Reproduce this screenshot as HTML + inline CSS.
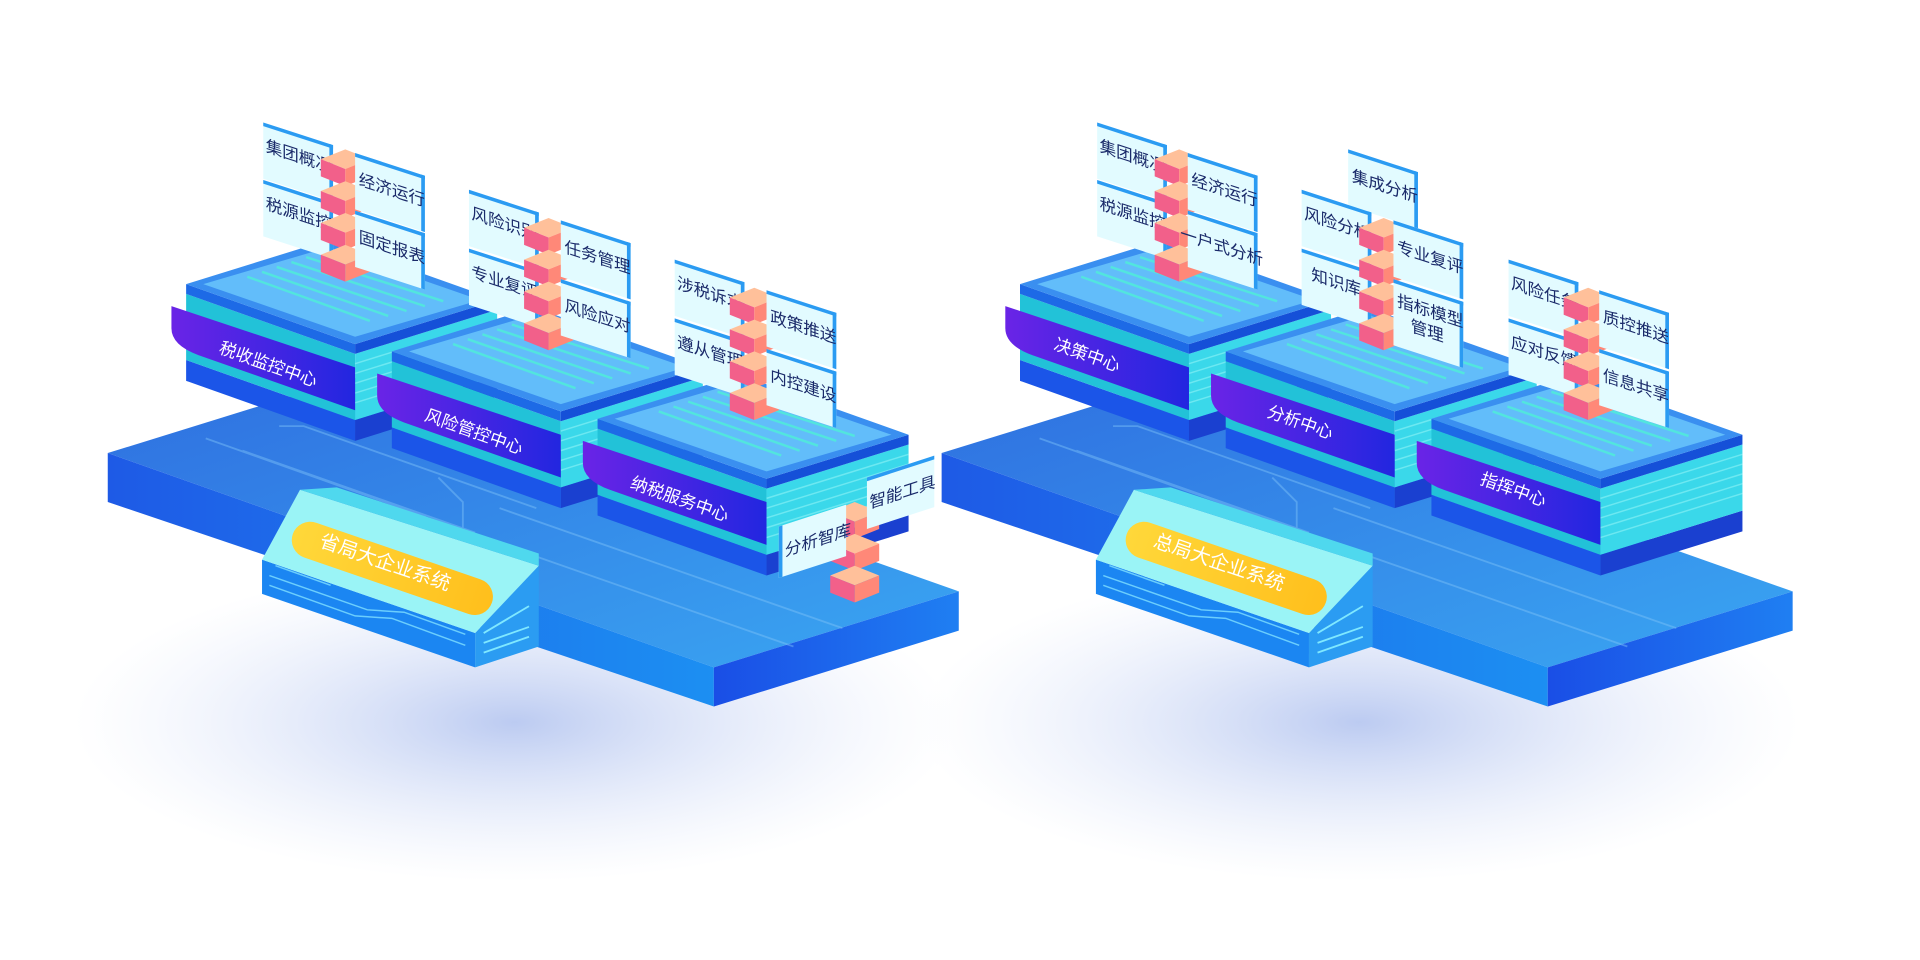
<!DOCTYPE html>
<html><head><meta charset="utf-8"><style>
html,body{margin:0;padding:0;background:#fff;}
svg{display:block;}
text{font-family:"Liberation Sans","Noto Sans CJK SC",sans-serif;}
</style></head><body>
<svg width="1920" height="960" viewBox="0 0 1568 784" xmlns="http://www.w3.org/2000/svg">
<defs>
<radialGradient id="sh" cx="50%" cy="50%" r="50%"><stop offset="0" stop-color="#8fa8e8" stop-opacity=".6"/><stop offset="1" stop-color="#c8d6f6" stop-opacity="0"/></radialGradient>
<linearGradient id="btop" x1="0" y1="0" x2="1" y2="1"><stop offset="0" stop-color="#2f6fe0"/><stop offset="1" stop-color="#3aa6f2"/></linearGradient>
<linearGradient id="bleft" x1="0" y1="0" x2="1" y2="0"><stop offset="0" stop-color="#1e5ae6"/><stop offset="1" stop-color="#1c8ff2"/></linearGradient>
<linearGradient id="bright" x1="0" y1="0" x2="1" y2="0"><stop offset="0" stop-color="#1a4ee6"/><stop offset="1" stop-color="#1f7ff2"/></linearGradient>
<linearGradient id="panel" x1="0" y1="0" x2="1" y2="0"><stop offset="0" stop-color="#6a24e6"/><stop offset="1" stop-color="#2226e0"/></linearGradient>
<linearGradient id="pill" x1="0" y1="0" x2="1" y2="0"><stop offset="0" stop-color="#ffd83a"/><stop offset="1" stop-color="#ffbf1c"/></linearGradient>
<g id="base">
 <polygon points="0,0 200,-62 695,113 495,175" fill="url(#btop)"/>
 <polygon points="0,0 495,175 495,207 0,40" fill="url(#bleft)"/>
 <polygon points="495,175 695,113 695,145 495,207" fill="url(#bright)"/>
 <g stroke="#7fc4f8" stroke-width="1.5" opacity=".45" fill="none">
  <path d="M80,-12 L260,52 M110,-2 L300,65 M140,-22 L160,-22 L350,45 M280,60 L560,158 M320,45 L600,143 M270,20 L290,40 L290,70"/>
 </g>
</g>
<g id="tower">
 <polygon points="0,62 138,111 138,128 0,79" fill="#1b55e8"/>
 <polygon points="138,111 254,75 254,92 138,128" fill="#1a40d0"/>
 <polygon points="0,8 138,57 138,111 0,62" fill="#22c2d8"/>
 <polygon points="138,57 254,21 254,75 138,111" fill="#3ad8ea"/>
 <g stroke="#8ff3f6" stroke-width="1.2" opacity=".6">
  <line x1="138" y1="65" x2="254" y2="29"/><line x1="138" y1="73" x2="254" y2="37"/><line x1="138" y1="81" x2="254" y2="45"/><line x1="138" y1="89" x2="254" y2="53"/><line x1="138" y1="97" x2="254" y2="61"/>
 </g>
 <polygon points="0,0 138,49 138,57 0,8" fill="#1d6ae6"/>
 <polygon points="138,49 254,13 254,21 138,57" fill="#1550d8"/>
 <polygon points="0,0 116,-36 254,13 138,49" fill="#3a8ff0"/>
 <polygon points="14,0 116,-30 240,13 138,43" fill="#62bdfa"/>
 <g stroke="#4ff0d8" stroke-width="2" opacity=".8">
  <line x1="50" y1="-6" x2="150" y2="30"/><line x1="62" y1="-10" x2="165" y2="26"/><line x1="74" y1="-14" x2="180" y2="22"/><line x1="86" y1="-18" x2="195" y2="18"/><line x1="98" y1="-22" x2="210" y2="14"/>
 </g>
 <path d="M-12,18 L138,68 L138,103 L10,58 Q-12,50 -12,36 Z" fill="url(#panel)"/>
</g>
<g id="cube">
 <polygon points="0,8 20,0 40,8 20,16" fill="#ffc09a"/>
 <polygon points="0,8 20,16 20,30 0,22" fill="#f2608a"/>
 <polygon points="20,16 40,8 40,22 20,30" fill="#ff8878"/>
</g>
<g id="stack4"><use href="#cube" y="0"/><use href="#cube" y="26"/><use href="#cube" y="52"/><use href="#cube" y="78"/></g>
<g id="card">
 <rect x="0" y="0" width="57" height="46" fill="#e2fbff"/>
 <rect x="0" y="0" width="57" height="3" fill="#2b9bf2"/>
 <rect x="54" y="0" width="3" height="46" fill="#2b9bf2"/>
</g>
<g id="gate">
 <polygon points="214,457 388,517 388,545 214,485" fill="#1b86f2"/>
 <g stroke="#7fe0ff" stroke-width="1.2" fill="none" opacity=".8"><path d="M220,470 L300,498 L330,500 L380,518 M220,478 L290,503 L320,505 L380,527 M225,462 L270,478"/></g>
 <polygon points="388,517 440,462 440,528 388,545" fill="#2b9cf2"/>
 <g stroke="#7fe8ff" stroke-width="1.5"><line x1="395" y1="525" x2="432" y2="512"/><line x1="395" y1="533" x2="432" y2="520"/><line x1="395" y1="517" x2="432" y2="495"/></g>
 <polygon points="214,457 245,400 440,462 388,517" fill="#9af4f6"/>
 <polygon points="245,400 275,398 440,452 440,462" fill="#4fd8ee"/>
</g>
</defs>

<ellipse cx="420" cy="590" rx="360" ry="130" fill="url(#sh)"/>
<ellipse cx="1110" cy="590" rx="360" ry="130" fill="url(#sh)"/>

<!-- LEFT GROUP -->
<use href="#base" x="88" y="370"/>
<use href="#tower" x="152" y="232"/>
<use href="#tower" x="320" y="287"/>
<use href="#tower" x="488" y="342"/>
<g fill="#fff" font-size="14">
<text transform="translate(178,288) rotate(19.5)">税收监控中心</text>
<text transform="translate(346,343) rotate(19.5)">风险管控中心</text>
<text transform="translate(514,398) rotate(19.5)">纳税服务中心</text>
</g>
<use href="#gate"/>
<rect x="0" y="0" width="172" height="30" rx="15" fill="url(#pill)" transform="translate(244,422) rotate(19)"/>
<text transform="translate(260,446) rotate(19)" font-size="16" fill="#fff">省局大企业系统</text>

<g font-size="13.5" fill="#1a2a6a">
<g transform="translate(215,100) skewY(18)"><use href="#card"/><text x="2" y="23">集团概况</text></g>
<g transform="translate(215,147) skewY(18)"><use href="#card"/><text x="2" y="23">税源监控</text></g>
<use href="#stack4" x="262" y="122"/>
<g transform="translate(290,125) skewY(18)"><use href="#card"/><text x="3" y="25">经济运行</text></g>
<g transform="translate(290,172) skewY(18)"><use href="#card"/><text x="3" y="25">固定报表</text></g>

<g transform="translate(383,155) skewY(18)"><use href="#card"/><text x="2" y="23">风险识别</text></g>
<g transform="translate(383,203) skewY(18)"><use href="#card"/><text x="2" y="23">专业复评</text></g>
<use href="#stack4" x="428" y="178"/>
<g transform="translate(458,180) skewY(18)"><use href="#card"/><text x="3" y="25">任务管理</text></g>
<g transform="translate(458,228) skewY(18)"><use href="#card"/><text x="3" y="25">风险应对</text></g>

<g transform="translate(551,212) skewY(18)"><use href="#card"/><text x="2" y="23">涉税诉求</text></g>
<g transform="translate(551,260) skewY(18)"><use href="#card"/><text x="2" y="23">遵从管理</text></g>
<use href="#stack4" x="596" y="235"/>
<g transform="translate(626,237) skewY(18)"><use href="#card"/><text x="3" y="25">政策推送</text></g>
<g transform="translate(626,285) skewY(18)"><use href="#card"/><text x="3" y="25">内控建设</text></g>

<use href="#cube" x="678" y="410"/><use href="#cube" x="678" y="436"/><use href="#cube" x="678" y="462"/>
<g transform="translate(636,430) skewY(-18)"><rect width="55" height="42" fill="#e2fbff"/><rect width="3" height="42" fill="#2b9bf2"/><text x="5" y="26">分析智库</text></g>
<g transform="translate(708,390) skewY(-18)"><rect width="55" height="42" fill="#e2fbff"/><rect width="55" height="3" fill="#2b9bf2"/><text x="2" y="26">智能工具</text></g>
</g>

<!-- RIGHT GROUP -->
<use href="#base" x="769" y="370"/>
<use href="#tower" x="833" y="232"/>
<use href="#tower" x="1001" y="287"/>
<use href="#tower" x="1169" y="342"/>
<g fill="#fff" font-size="14">
<text transform="translate(860,285) rotate(19.5)">决策中心</text>
<text transform="translate(1034,340) rotate(19.5)">分析中心</text>
<text transform="translate(1208,395) rotate(19.5)">指挥中心</text>
</g>
<use href="#gate" x="681"/>
<rect x="0" y="0" width="172" height="30" rx="15" fill="url(#pill)" transform="translate(925,422) rotate(19)"/>
<text transform="translate(941,446) rotate(19)" font-size="16" fill="#fff">总局大企业系统</text>

<g font-size="13.5" fill="#1a2a6a">
<g transform="translate(896,100) skewY(18)"><use href="#card"/><text x="2" y="23">集团概况</text></g>
<g transform="translate(896,147) skewY(18)"><use href="#card"/><text x="2" y="23">税源监控</text></g>
<use href="#stack4" x="943" y="122"/>
<g transform="translate(970,125) skewY(18)"><use href="#card"/><text x="3" y="25">经济运行</text></g>
<g transform="translate(970,172) skewY(18)"><use href="#card"/><text x="-6" y="25">一户式分析</text></g>

<g transform="translate(1101,122) skewY(18)"><use href="#card"/><text x="3" y="25">集成分析</text></g>
<g transform="translate(1063,155) skewY(18)"><use href="#card"/><text x="2" y="23">风险分析</text></g>
<g transform="translate(1063,203) skewY(18)"><use href="#card"/><text x="8" y="23">知识库</text></g>
<use href="#stack4" x="1110" y="178"/>
<g transform="translate(1138,180) skewY(18)"><use href="#card"/><text x="3" y="25">专业复评</text></g>
<g transform="translate(1138,228) skewY(18)"><rect width="57" height="54" fill="#e2fbff"/><rect width="57" height="3" fill="#2b9bf2"/><rect x="54" width="3" height="54" fill="#2b9bf2"/><text x="3" y="21">指标模型</text><text x="14" y="38">管理</text></g>

<g transform="translate(1232,212) skewY(18)"><use href="#card"/><text x="2" y="23">风险任务</text></g>
<g transform="translate(1232,260) skewY(18)"><use href="#card"/><text x="2" y="23">应对反馈</text></g>
<use href="#stack4" x="1277" y="235"/>
<g transform="translate(1306,237) skewY(18)"><use href="#card"/><text x="3" y="25">质控推送</text></g>
<g transform="translate(1306,285) skewY(18)"><use href="#card"/><text x="3" y="25">信息共享</text></g>
</g>
</svg>
</body></html>
